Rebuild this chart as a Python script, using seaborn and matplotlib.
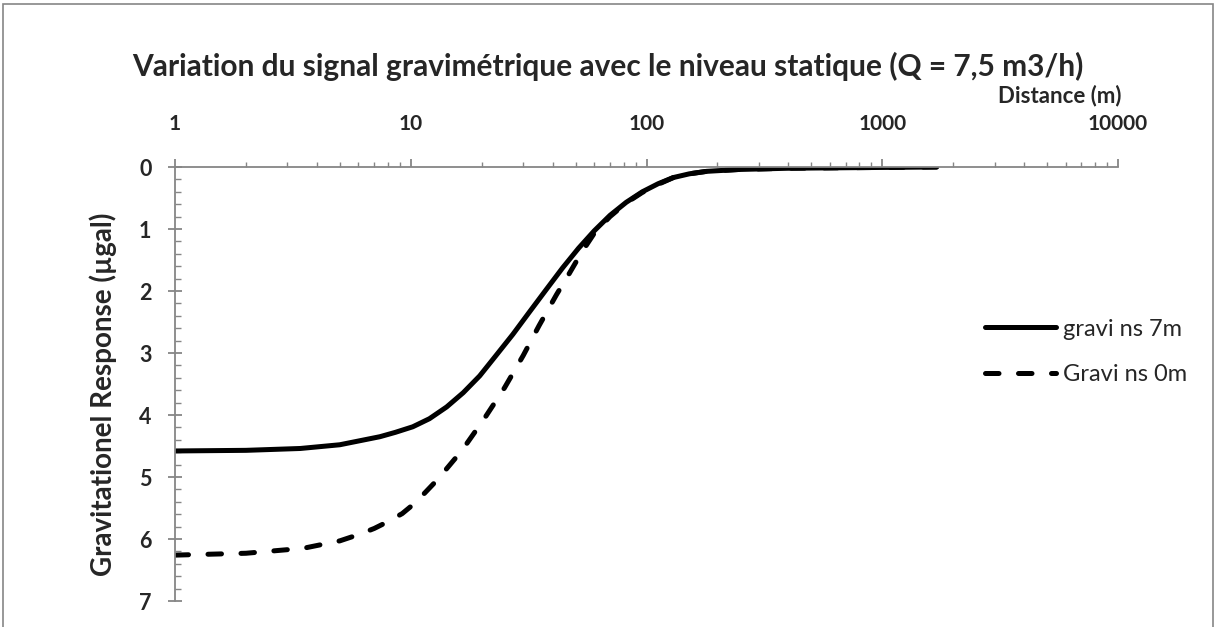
import numpy as np
import pandas as pd
import matplotlib
matplotlib.use("Agg")
import matplotlib.pyplot as plt
import matplotlib.ticker as mticker
from matplotlib.patches import Rectangle
import seaborn as sns

# ---- data ----
solid_x = [1, 2, 3.4, 5, 7.4, 8.6, 10.2, 12, 14.2, 16.7, 19.6, 23, 27.1, 32, 37.5, 44,
           51.5, 60, 70, 82, 96, 112, 130, 152, 180, 246, 400, 800, 1700]
solid_y = [4.58, 4.57, 4.54, 4.48, 4.35, 4.28, 4.19, 4.06, 3.87, 3.64, 3.37, 3.04, 2.70,
           2.33, 1.98, 1.63, 1.31, 1.03, 0.78, 0.57, 0.40, 0.27, 0.17, 0.11, 0.07, 0.04,
           0.02, 0.01, 0.0]
dash_x = [1, 2, 3.5, 5, 6, 7, 8, 9.2, 10.5, 13, 16.5, 20.5, 25, 30, 35, 41.5, 47, 53, 60,
          70, 82, 96, 112, 130, 152, 180, 246, 400, 800, 1700]
dash_y = [6.26, 6.23, 6.15, 6.03, 5.93, 5.83, 5.72, 5.59, 5.41, 5.04, 4.57, 4.06, 3.56,
          3.04, 2.56, 2.06, 1.72, 1.38, 1.07, 0.80, 0.58, 0.41, 0.28, 0.17, 0.11, 0.07,
          0.04, 0.02, 0.01, 0.0]
series_names = ["gravi ns 7m", "Gravi ns 0m"]
x_ticks = [1, 10, 100, 1000, 10000]
x_tick_labels = ["1", "10", "100", "1000", "10000"]
y_ticks = [0, 1, 2, 3, 4, 5, 6, 7]

title = "Variation du signal gravimétrique avec le niveau statique (Q = 7,5 m3/h)"
xlabel = "Distance (m)"
ylabel = "Gravitationel Response (µgal)"

df = pd.concat([
    pd.DataFrame({"x": solid_x, "y": solid_y, "serie": series_names[0]}),
    pd.DataFrame({"x": dash_x, "y": dash_y, "serie": series_names[1]}),
])

sns.set_style("white")
plt.rcParams["font.family"] = ["Lato", "DejaVu Sans"]
plt.rcParams["font.weight"] = "bold"

W, H = 1217, 627
fig = plt.figure(figsize=(W / 100, H / 100), dpi=100)
ax = fig.add_axes([175 / W, 1 - 601 / H, (1118 - 175) / W, (601 - 167) / H])

gray = "#868686"
lw = 3.6
sns.lineplot(data=df[df.serie == series_names[0]], x="x", y="y", ax=ax, color="black",
             linewidth=lw, label=series_names[0], solid_capstyle="round",
             solid_joinstyle="round", sort=False, estimator=None)
sns.lineplot(data=df[df.serie == series_names[1]], x="x", y="y", ax=ax, color="black",
             linewidth=lw, label=series_names[1], linestyle=(0, (2.7, 3.9)),
             dash_capstyle="round", dash_joinstyle="round", sort=False, estimator=None)

ax.set_xscale("log")
ax.set_xlim(1, 10000)
ax.set_ylim(7, 0)

ax.xaxis.tick_top()
ax.xaxis.set_major_locator(mticker.FixedLocator(x_ticks))
ax.xaxis.set_major_formatter(mticker.FixedFormatter(x_tick_labels))
ax.xaxis.set_minor_locator(mticker.LogLocator(base=10, subs=np.arange(2, 10), numticks=20))
ax.xaxis.set_minor_formatter(mticker.NullFormatter())
ax.set_yticks(y_ticks)
ax.yaxis.set_minor_locator(mticker.MultipleLocator(0.2))

ax.tick_params(axis="x", which="major", direction="out", length=6, width=1.3, color=gray,
               pad=18, labelsize=15)
ax.tick_params(axis="x", which="minor", direction="out", length=3.5, width=1, color=gray)
ax.tick_params(axis="y", which="major", direction="inout", length=10, width=1.3, color=gray,
               pad=12, labelsize=15.5, left=True)
ax.tick_params(axis="y", which="minor", direction="in", length=4, width=1, color=gray,
               left=True)

for s in ["right", "bottom"]:
    ax.spines[s].set_visible(False)
for s in ["top", "left"]:
    ax.spines[s].set_color(gray)
    ax.spines[s].set_linewidth(1.3)

ax.set_xlabel("")
ax.set_ylabel("")
fig.text(1060 / W, 1 - 96 / H, xlabel, ha="center", va="center", fontsize=16,
         fontweight="bold")
fig.text(103 / W, 1 - 394 / H, ylabel, ha="center", va="center", rotation=90,
         fontsize=20, fontweight="bold")
fig.text(608 / W, 1 - 66 / H, title, ha="center", va="center", fontsize=21.5,
         fontweight="bold")

leg = ax.legend(loc="center left", bbox_to_anchor=(985 / W, 1 - 352 / H),
                bbox_transform=fig.transFigure, frameon=False,
                prop={"size": 17, "weight": "normal"}, borderpad=0, borderaxespad=0,
                handlelength=3.0, handletextpad=0.3, labelspacing=1.05)

fig.patches.append(Rectangle((3 / W, -0.05), (1213 - 3) / W, 1.05 - 3.5 / H,
                             transform=fig.transFigure, fill=False, edgecolor=gray,
                             linewidth=1.2))

fig.savefig("out.png", dpi=100, facecolor="white")
